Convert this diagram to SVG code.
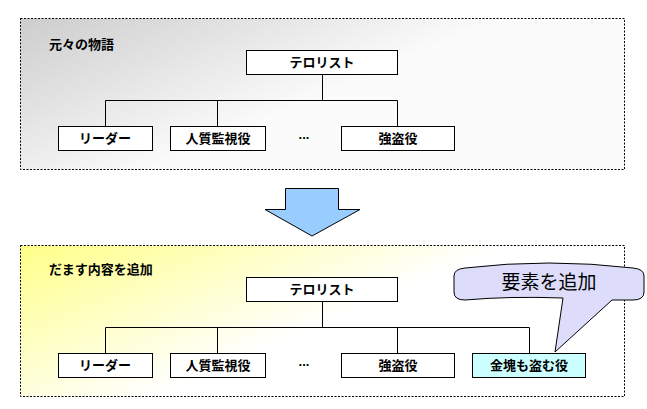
<svg xmlns="http://www.w3.org/2000/svg" width="647" height="409" viewBox="0 0 647 409">
  <defs>
    <linearGradient id="grayFill" x1="0" y1="0" x2="0.6" y2="0.35">
      <stop offset="0" stop-color="#cdcdcd"/>
      <stop offset="1" stop-color="#fbfbfb"/>
    </linearGradient>
    <linearGradient id="yellowFill" x1="0" y1="0" x2="0.6" y2="0.35">
      <stop offset="0" stop-color="#ffff88"/>
      <stop offset="1" stop-color="#ffffff"/>
    </linearGradient>
    <style>
      .panel { stroke: #000; stroke-width: 1; stroke-dasharray: 2 1.5; }
      .box { fill: #fff; stroke: #000; stroke-width: 1; }
      .added { fill: #ccffff; stroke: #000; stroke-width: 1; }
      .wire { fill: none; stroke: #000; stroke-width: 1; }
      .title { font-family: "Noto Sans CJK JP", "Noto Sans CJK SC", sans-serif; font-size: 13px; font-weight: bold; fill: #000; }
      .label { font-family: "Noto Sans CJK JP", "Noto Sans CJK SC", sans-serif; font-size: 13px; font-weight: bold; fill: #000; text-anchor: middle; }
      .dots { font-family: "Liberation Sans", sans-serif; font-size: 13px; font-weight: bold; fill: #000; text-anchor: middle; }
      .note { font-family: "Noto Sans CJK JP", "Noto Sans CJK SC", sans-serif; font-size: 19px; fill: #000; text-anchor: middle; }
    </style>
  </defs>

  <!-- upper panel: original story -->
  <g id="panel-original">
    <rect class="panel" x="20.5" y="18.5" width="604" height="151" fill="url(#grayFill)"/>
    <text class="title" x="49" y="49">元々の物語</text>
  </g>

  <!-- lower panel: deceptive additions -->
  <g id="panel-added">
    <rect class="panel" x="20.5" y="245.5" width="604" height="151" fill="url(#yellowFill)"/>
    <text class="title" x="49" y="274">だます内容を追加</text>
  </g>

  <!-- connectors -->
  <g id="connectors">
    <path class="wire" d="M322.5 74 V100.5 M105.5 126 V100.5 H397.5 V126 M217.5 100.5 V126"/>
    <path class="wire" d="M322.5 301 V327.5 M105.5 353 V327.5 H529.5 V353 M217.5 327.5 V353 M397.5 327.5 V353"/>
  </g>

  <!-- upper tree -->
  <g id="terrorist-1">
    <rect class="box" x="246.5" y="50.5" width="151" height="24"/>
    <text class="label" x="322" y="67">テロリスト</text>
  </g>
  <g id="leader-1">
    <rect class="box" x="58.5" y="126.5" width="94" height="24"/>
    <text class="label" x="105" y="143">リーダー</text>
  </g>
  <g id="hostage-1">
    <rect class="box" x="170.5" y="126.5" width="95" height="24"/>
    <text class="label" x="218" y="143">人質監視役</text>
  </g>
  <g id="ellipsis-1">
    <text class="dots" x="304" y="139">...</text>
  </g>
  <g id="robber-1">
    <rect class="box" x="341.5" y="126.5" width="113" height="24"/>
    <text class="label" x="398" y="143">強盗役</text>
  </g>

  <!-- down arrow -->
  <g id="arrow">
    <path d="M285.5 188.5 H338.5 V209.5 H360 L312 236 L265 209.5 H285.5 Z" fill="#99ccff" stroke="#000" stroke-width="1"/>
  </g>

  <!-- lower tree -->
  <g id="terrorist-2">
    <rect class="box" x="246.5" y="277.5" width="151" height="24"/>
    <text class="label" x="322" y="294">テロリスト</text>
  </g>
  <g id="leader-2">
    <rect class="box" x="58.5" y="353.5" width="94" height="24"/>
    <text class="label" x="105" y="370">リーダー</text>
  </g>
  <g id="hostage-2">
    <rect class="box" x="170.5" y="353.5" width="95" height="24"/>
    <text class="label" x="218" y="370">人質監視役</text>
  </g>
  <g id="ellipsis-2">
    <text class="dots" x="304" y="366">...</text>
  </g>
  <g id="robber-2">
    <rect class="box" x="341.5" y="353.5" width="113" height="24"/>
    <text class="label" x="398" y="370">強盗役</text>
  </g>
  <g id="gold-thief">
    <rect class="added" x="472.5" y="353.5" width="113" height="24"/>
    <text class="label" x="529" y="370">金塊も盗む役</text>
  </g>

  <!-- callout -->
  <g id="callout">
    <path d="M465 268 Q549 258 633 268 Q644 269 644 276 V292 Q644 300 633 300 L612 300 L555 352 L563 298 Q510 296 465 300 Q454 300 454 292 V276 Q454 269 465 268 Z" fill="#ddddfb" stroke="#000" stroke-width="1"/>
    <text class="note" x="549" y="289">要素を追加</text>
  </g>
</svg>
